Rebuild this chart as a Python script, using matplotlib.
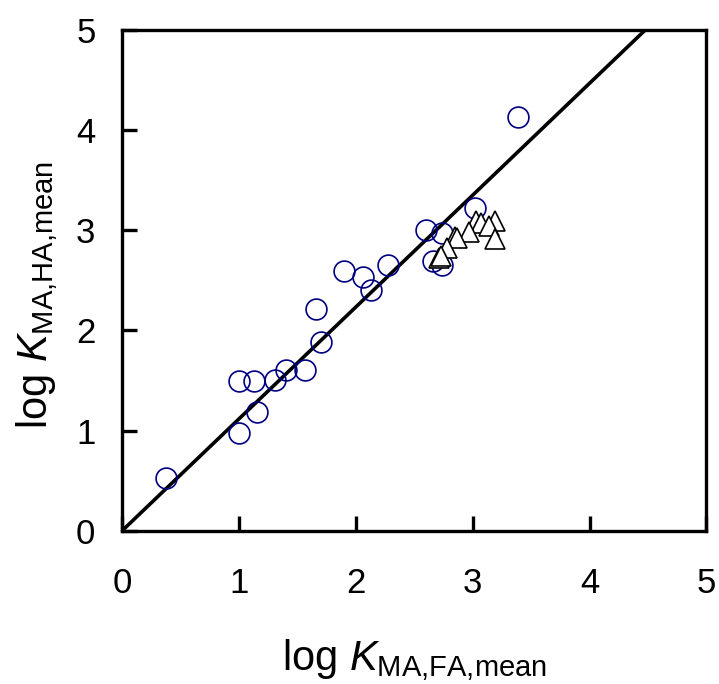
#!/usr/bin/env python3
import matplotlib
matplotlib.use('Agg')
import matplotlib.pyplot as plt

plt.rcParams['font.family'] = ['Liberation Sans', 'DejaVu Sans']
plt.rcParams['mathtext.fontset'] = 'custom'
plt.rcParams['mathtext.rm'] = 'Liberation Sans'
plt.rcParams['mathtext.it'] = 'Liberation Sans:italic'

# Circles (blue, open)
circ_x = [0.38, 1.00, 1.13, 1.00, 1.16, 1.31, 1.40, 1.57, 1.70, 1.66, 1.90,
          2.06, 2.13, 2.28, 3.39, 3.02, 2.60, 2.74, 2.66, 2.74]
circ_y = [0.53, 1.50, 1.50, 0.98, 1.19, 1.51, 1.61, 1.61, 1.88, 2.21, 2.59,
          2.53, 2.40, 2.65, 4.13, 3.22, 3.00, 2.97, 2.69, 2.65]

# Triangles (white, black edge)
tri_x = [3.03, 3.07, 3.19, 3.14, 3.19, 2.97, 2.85, 2.87, 2.78, 2.71, 2.73]
tri_y = [3.09, 3.07, 3.09, 3.04, 2.91, 2.98, 2.93, 2.92, 2.82, 2.72, 2.74]

# reference line through origin
line_x = [0, 4.48]
line_y = [0, 5]

fig = plt.figure(figsize=(7.19, 6.84), dpi=100)
ax = fig.add_axes([0.1695, 0.2237, 0.813, 0.733])

ax.plot(line_x, line_y, color='black', lw=2.6, zorder=2)
ax.plot(circ_x, circ_y, 'o', ms=15, mfc='none', mec='#000080', mew=1.2, zorder=3)
ax.plot(tri_x, tri_y, '^', ms=15, mfc='white', mec='black', mew=1.2, zorder=4)

ax.set_xlim(0, 5)
ax.set_ylim(0, 5)
ax.set_xticks(range(6))
ax.set_yticks(range(6))
for s in ax.spines.values():
    s.set_linewidth(2.4)
ax.tick_params(axis='both', direction='in', length=11, width=2.4, labelsize=25)
ax.tick_params(axis='x', pad=26)
ax.tick_params(axis='y', pad=19)

ax.set_xlabel(r'log $\mathit{K}_{\mathrm{MA{,}FA{,}mean}}$', fontsize=30)
ax.set_ylabel(r'log $\mathit{K}_{\mathrm{MA{,}HA{,}mean}}$', fontsize=30)
ax.xaxis.label.set_va('baseline')
ax.yaxis.label.set_va('baseline')
ax.xaxis.set_label_coords(0.5, -0.277)
ax.yaxis.set_label_coords(-0.128, 0.47)

fig.savefig('out.png', dpi=100)
